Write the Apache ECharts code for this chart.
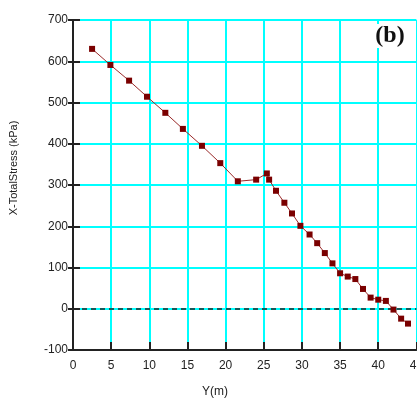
<!DOCTYPE html>
<html>
<head>
<meta charset="utf-8">
<script src="https://cdn.jsdelivr.net/npm/echarts@6/dist/echarts.min.js"></script>
<style>
  html, body { margin: 0; padding: 0; background: #fff; }
  #chart { width: 417px; height: 402px; }
</style>
</head>
<body>
<div id="chart"></div>
<script>
// Horizontal total stress along the section, Y(m) vs X-Total Stress (kPa)
const distance = [2.5, 4.9, 7.35, 9.7, 12.1, 14.4, 16.9, 19.3, 21.6, 24.0, 25.4, 25.7, 26.6, 27.7, 28.7, 29.8,
                  31.0, 32.0, 33.0, 34.0, 35.0, 36.0, 37.0, 38.0, 39.0, 40.0, 41.0, 42.0, 43.0, 43.9];
const stress = [630, 591, 553, 514, 475, 436, 395, 353, 309, 313, 328, 313, 286, 257, 231, 201,
                180, 159, 135, 110, 86, 78, 72, 48, 27, 22, 19, -2, -24, -36];
const xTicks = { min: 0, max: 45, step: 5 };
const yTicks = { min: -100, max: 700, step: 100 };

const points = distance.map((d, i) => [d, stress[i]]);
const labelFont = { fontFamily: 'Liberation Sans, Arial, sans-serif', fontSize: 12, color: '#222' };

const chart = echarts.init(document.getElementById('chart'), null, { renderer: 'canvas' });
chart.setOption({
  animation: false,
  backgroundColor: '#fff',
  grid: { left: 73, right: 0.6, top: 20, bottom: 52, containLabel: false, outerBoundsMode: 'none' },
  xAxis: {
    type: 'value', min: xTicks.min, max: xTicks.max, interval: xTicks.step,
    axisLine: { onZero: false, lineStyle: { color: '#222', width: 2 } },
    axisTick: { inside: true, length: 8, lineStyle: { color: '#222', width: 2 } },
    axisLabel: Object.assign({ margin: 10 }, labelFont),
    splitLine: { show: true, lineStyle: { color: '#00ffff', width: 2 } }
  },
  yAxis: [
    {
      type: 'value', min: yTicks.min, max: yTicks.max, interval: yTicks.step,
      axisLine: { show: true, onZero: false, lineStyle: { color: '#222', width: 2 } },
      axisTick: { show: true, inside: true, length: 7, lineStyle: { color: '#222', width: 2 } },
      axisLabel: Object.assign({ margin: 5 }, labelFont),
      splitLine: { show: true, lineStyle: { color: '#00ffff', width: 2 } }
    },
    {
      type: 'value', position: 'left', min: yTicks.min, max: yTicks.max, interval: yTicks.step,
      axisLine: { show: false, onZero: false },
      axisTick: { show: true, inside: false, length: 5, lineStyle: { color: '#222', width: 2 } },
      axisLabel: { show: false },
      splitLine: { show: false }
    }
  ],
  series: [{
    type: 'line',
    data: points,
    yAxisIndex: 0,
    symbol: 'rect',
    symbolSize: 6,
    lineStyle: { color: '#9a2a2a', width: 1 },
    itemStyle: { color: '#7a0000' },
    z: 5,
    markLine: {
      silent: true,
      symbol: 'none',
      label: { show: false },
      lineStyle: { color: '#222', type: [5, 4], width: 1.5 },
      data: [{ yAxis: 0 }]
    }
  }],
  graphic: [
    {
      type: 'text', left: 202, top: 386,
      style: { text: 'Y(m)', font: '12px "Liberation Sans", Arial, sans-serif', fill: '#222' }
    },
    {
      type: 'text', x: 14, y: 168, rotation: Math.PI / 2,
      style: {
        text: 'X-TotalStress (kPa)', font: '11px "Liberation Sans", Arial, sans-serif', fill: '#222',
        align: 'center', verticalAlign: 'middle'
      }
    },
    {
      type: 'text', x: 390, y: 36, z: 100,
      style: {
        text: '(b)', font: 'bold 24px "Liberation Serif", "Times New Roman", serif', fill: '#111',
        align: 'center', verticalAlign: 'middle',
        backgroundColor: '#fff', padding: [0, 2, 0, 2]
      }
    }
  ]
});
</script>
</body>
</html>
